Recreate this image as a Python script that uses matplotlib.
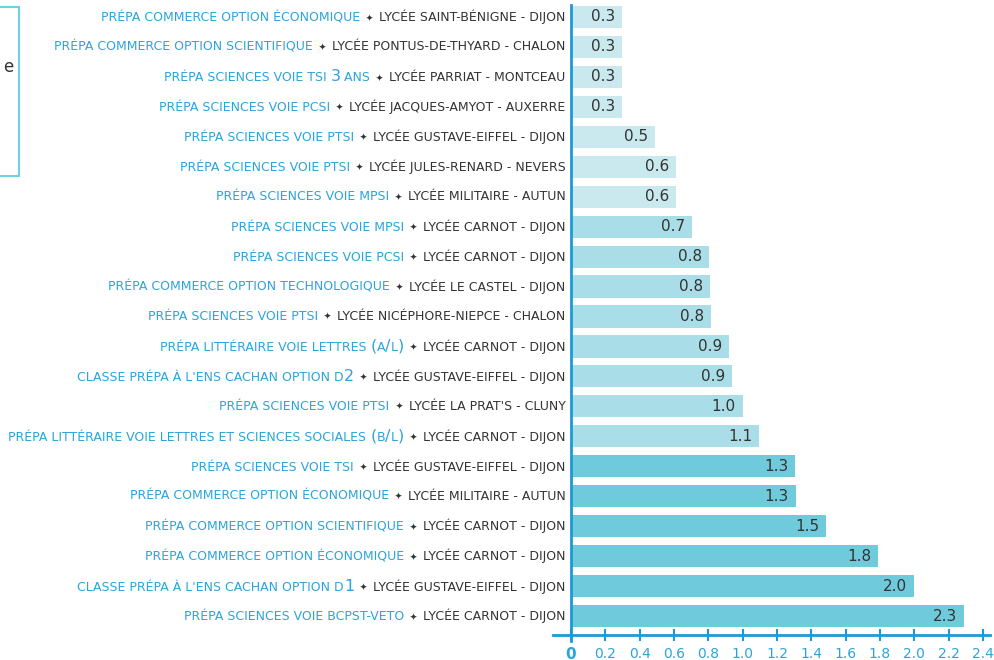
import itertools
import numpy as np
import matplotlib
matplotlib.use("Agg")
import matplotlib.pyplot as plt
from matplotlib.offsetbox import TextArea, HPacker, AnnotationBbox
from matplotlib.patches import Rectangle

# rows from top to bottom
programmes = [
    "PRÉPA COMMERCE OPTION ÉCONOMIQUE",
    "PRÉPA COMMERCE OPTION SCIENTIFIQUE",
    "PRÉPA SCIENCES VOIE TSI 3 ANS",
    "PRÉPA SCIENCES VOIE PCSI",
    "PRÉPA SCIENCES VOIE PTSI",
    "PRÉPA SCIENCES VOIE PTSI",
    "PRÉPA SCIENCES VOIE MPSI",
    "PRÉPA SCIENCES VOIE MPSI",
    "PRÉPA SCIENCES VOIE PCSI",
    "PRÉPA COMMERCE OPTION TECHNOLOGIQUE",
    "PRÉPA SCIENCES VOIE PTSI",
    "PRÉPA LITTÉRAIRE VOIE LETTRES (A/L)",
    "CLASSE PRÉPA À L'ENS CACHAN OPTION D2",
    "PRÉPA SCIENCES VOIE PTSI",
    "PRÉPA LITTÉRAIRE VOIE LETTRES ET SCIENCES SOCIALES (B/L)",
    "PRÉPA SCIENCES VOIE TSI",
    "PRÉPA COMMERCE OPTION ÉCONOMIQUE",
    "PRÉPA COMMERCE OPTION SCIENTIFIQUE",
    "PRÉPA COMMERCE OPTION ÉCONOMIQUE",
    "CLASSE PRÉPA À L'ENS CACHAN OPTION D1",
    "PRÉPA SCIENCES VOIE BCPST-VETO",
]
lycees = [
    "LYCÉE SAINT-BÉNIGNE - DIJON",
    "LYCÉE PONTUS-DE-THYARD - CHALON",
    "LYCÉE PARRIAT - MONTCEAU",
    "LYCÉE JACQUES-AMYOT - AUXERRE",
    "LYCÉE GUSTAVE-EIFFEL - DIJON",
    "LYCÉE JULES-RENARD - NEVERS",
    "LYCÉE MILITAIRE - AUTUN",
    "LYCÉE CARNOT - DIJON",
    "LYCÉE CARNOT - DIJON",
    "LYCÉE LE CASTEL - DIJON",
    "LYCÉE NICÉPHORE-NIEPCE - CHALON",
    "LYCÉE CARNOT - DIJON",
    "LYCÉE GUSTAVE-EIFFEL - DIJON",
    "LYCÉE LA PRAT'S - CLUNY",
    "LYCÉE CARNOT - DIJON",
    "LYCÉE GUSTAVE-EIFFEL - DIJON",
    "LYCÉE MILITAIRE - AUTUN",
    "LYCÉE CARNOT - DIJON",
    "LYCÉE CARNOT - DIJON",
    "LYCÉE GUSTAVE-EIFFEL - DIJON",
    "LYCÉE CARNOT - DIJON",
]
valeurs = [0.297, 0.297, 0.297, 0.297, 0.49, 0.61, 0.61, 0.705, 0.805, 0.81,
           0.815, 0.92, 0.94, 1.0, 1.095, 1.305, 1.31, 1.485, 1.79, 2.0, 2.29]
groupes = [0] * 7 + [1] * 8 + [2] * 6
xticks = [0, 0.2, 0.4, 0.6, 0.8, 1.0, 1.2, 1.4, 1.6, 1.8, 2.0, 2.2, 2.4]

BLUE = "#2ba4dc"
AXBLUE = "#1b9ad6"
DARK = "#333333"
couleurs = ["#cae9ee", "#a9dde7", "#6fcbdb"]

fig = plt.figure(figsize=(9.95, 6.6), dpi=100)
ax = fig.add_axes([553 / 995, 25 / 660, 437 / 995, 630 / 660])

n = len(valeurs)
y = np.arange(n)[::-1]
ax.barh(y, valeurs, height=0.74, color=[couleurs[g] for g in groupes])

for yi, v in zip(y, valeurs):
    ax.annotate(f"{v:.1f}", xy=(v, yi), xytext=(-5, 0), textcoords="offset points",
                ha="right", va="center", fontsize=11, color=DARK)


def morceaux(txt):
    # digits and brackets are drawn bigger, like in the original small caps
    for big, grp in itertools.groupby(txt, key=lambda c: c in "0123456789()/"):
        yield "".join(grp), big


for yi, prog, lyc in zip(y, programmes, lycees):
    parts = [TextArea(s, textprops=dict(color=BLUE, size=11.5 if big else 9))
             for s, big in morceaux(prog)]
    parts.append(TextArea("  ✦  ", textprops=dict(color=DARK, size=6.5)))
    parts.append(TextArea(lyc, textprops=dict(color=DARK, size=9)))
    box = HPacker(children=parts, align="baseline", pad=0, sep=0)
    ab = AnnotationBbox(box, (0, yi), xybox=(-4, 0), xycoords="data",
                        boxcoords="offset points", box_alignment=(1, 0.5),
                        frameon=False, pad=0, annotation_clip=False)
    ax.add_artist(ab)

ax.set_xlim(-0.105, 2.441)
ax.set_ylim(-0.634, n - 1 + 0.4)

for s in ["top", "right"]:
    ax.spines[s].set_visible(False)
ax.spines["left"].set_position(("data", 0))
ax.spines["left"].set_bounds(-0.85, n - 1 + 0.4)
ax.spines["left"].set_color(AXBLUE)
ax.spines["left"].set_linewidth(2)
ax.spines["bottom"].set_color(AXBLUE)
ax.spines["bottom"].set_linewidth(2)

ax.set_yticks([])
ax.set_xticks(xticks)
ax.set_xticklabels(["0"] + [f"{t:.1f}" for t in xticks[1:]])
ax.tick_params(axis="x", direction="inout", length=9, width=1.5, color=AXBLUE,
               labelcolor=BLUE, labelsize=10, pad=4)
zero = ax.get_xticklabels()[0]
zero.set_fontsize(11)
zero.set_fontweight("bold")

# bout de légende coupé à gauche
fig.patches.append(Rectangle((-0.01, 484 / 660), 0.01 + 19 / 995, 169 / 660,
                             transform=fig.transFigure, fill=False,
                             edgecolor="#6fd0e2", linewidth=1.5))
fig.text(3 / 995, 593 / 660, "e", fontsize=12, color=DARK, va="center")

fig.savefig("out.png", dpi=100)
